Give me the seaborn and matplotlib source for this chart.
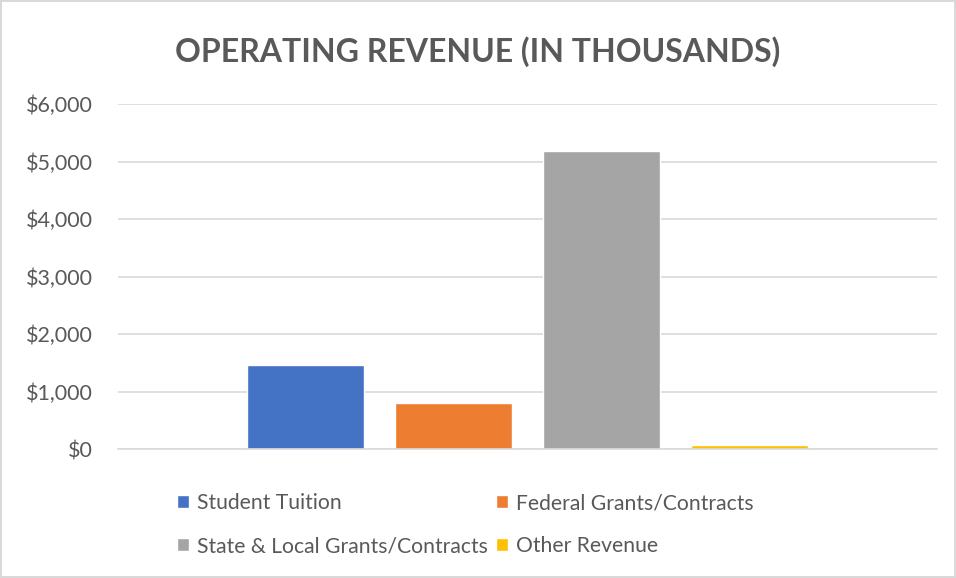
import numpy as np
import pandas as pd
import matplotlib.pyplot as plt
import seaborn as sns
from matplotlib.patches import Patch

# Data (thousands of dollars)
categories = ["Student Tuition", "Federal Grants/Contracts",
              "State & Local Grants/Contracts", "Other Revenue"]
values = [1466, 805, 5188, 78]
colors = ["#4472C4", "#ED7D31", "#A5A5A5", "#FFC000"]
yticks = [0, 1000, 2000, 3000, 4000, 5000, 6000]

df = pd.DataFrame({"category": categories, "value": values})

sns.set_style("white")
plt.rcParams["font.family"] = ["Lato", "DejaVu Sans"]

fig = plt.figure(figsize=(9.56, 5.78), dpi=100)
fig.patch.set_edgecolor("#d9d9d9")
fig.patch.set_linewidth(1.5)
ax = fig.add_axes([118 / 956, 1 - 449 / 578, (937 - 118) / 956, (449 - 104) / 578])

sns.barplot(data=df, x="category", y="value", hue="category", palette=colors,
            width=0.79, legend=False, ax=ax, saturation=1)

ax.set_ylim(0, 6000)
ax.set_xlim(-1.27, 4.27)
ax.set_yticks(yticks)
ax.set_yticklabels([f"${v:,}" for v in yticks], fontsize=15.5, color="#595959")
ax.set_xticks([])
ax.set_xlabel("")
ax.set_ylabel("")
ax.yaxis.grid(True, color="#d9d9d9", linewidth=1.2)
ax.set_axisbelow(True)
for s in ["top", "right", "left"]:
    ax.spines[s].set_visible(False)
ax.spines["bottom"].set_color("#d9d9d9")
ax.spines["bottom"].set_linewidth(1.2)
ax.tick_params(axis="y", length=0, pad=18)

fig.text(0.5, 1 - 52 / 578, "OPERATING REVENUE (IN THOUSANDS)", ha="center", va="center",
         fontsize=23, fontweight="bold", color="#595959")

# legend: column-major order so rows read Student/Federal, State/Other
order = [0, 2, 1, 3]
handles = [Patch(facecolor=colors[i], label=categories[i]) for i in order]
fig.legend(handles=handles, ncol=2, loc="upper left",
           bbox_to_anchor=(158 / 956, 1 - 474 / 578), frameon=False,
           fontsize=15.2, labelcolor="#595959", handlelength=0.55, handleheight=0.55,
           handletextpad=0.4, columnspacing=0.4, labelspacing=1.1)

fig.savefig("out.png", dpi=100)
